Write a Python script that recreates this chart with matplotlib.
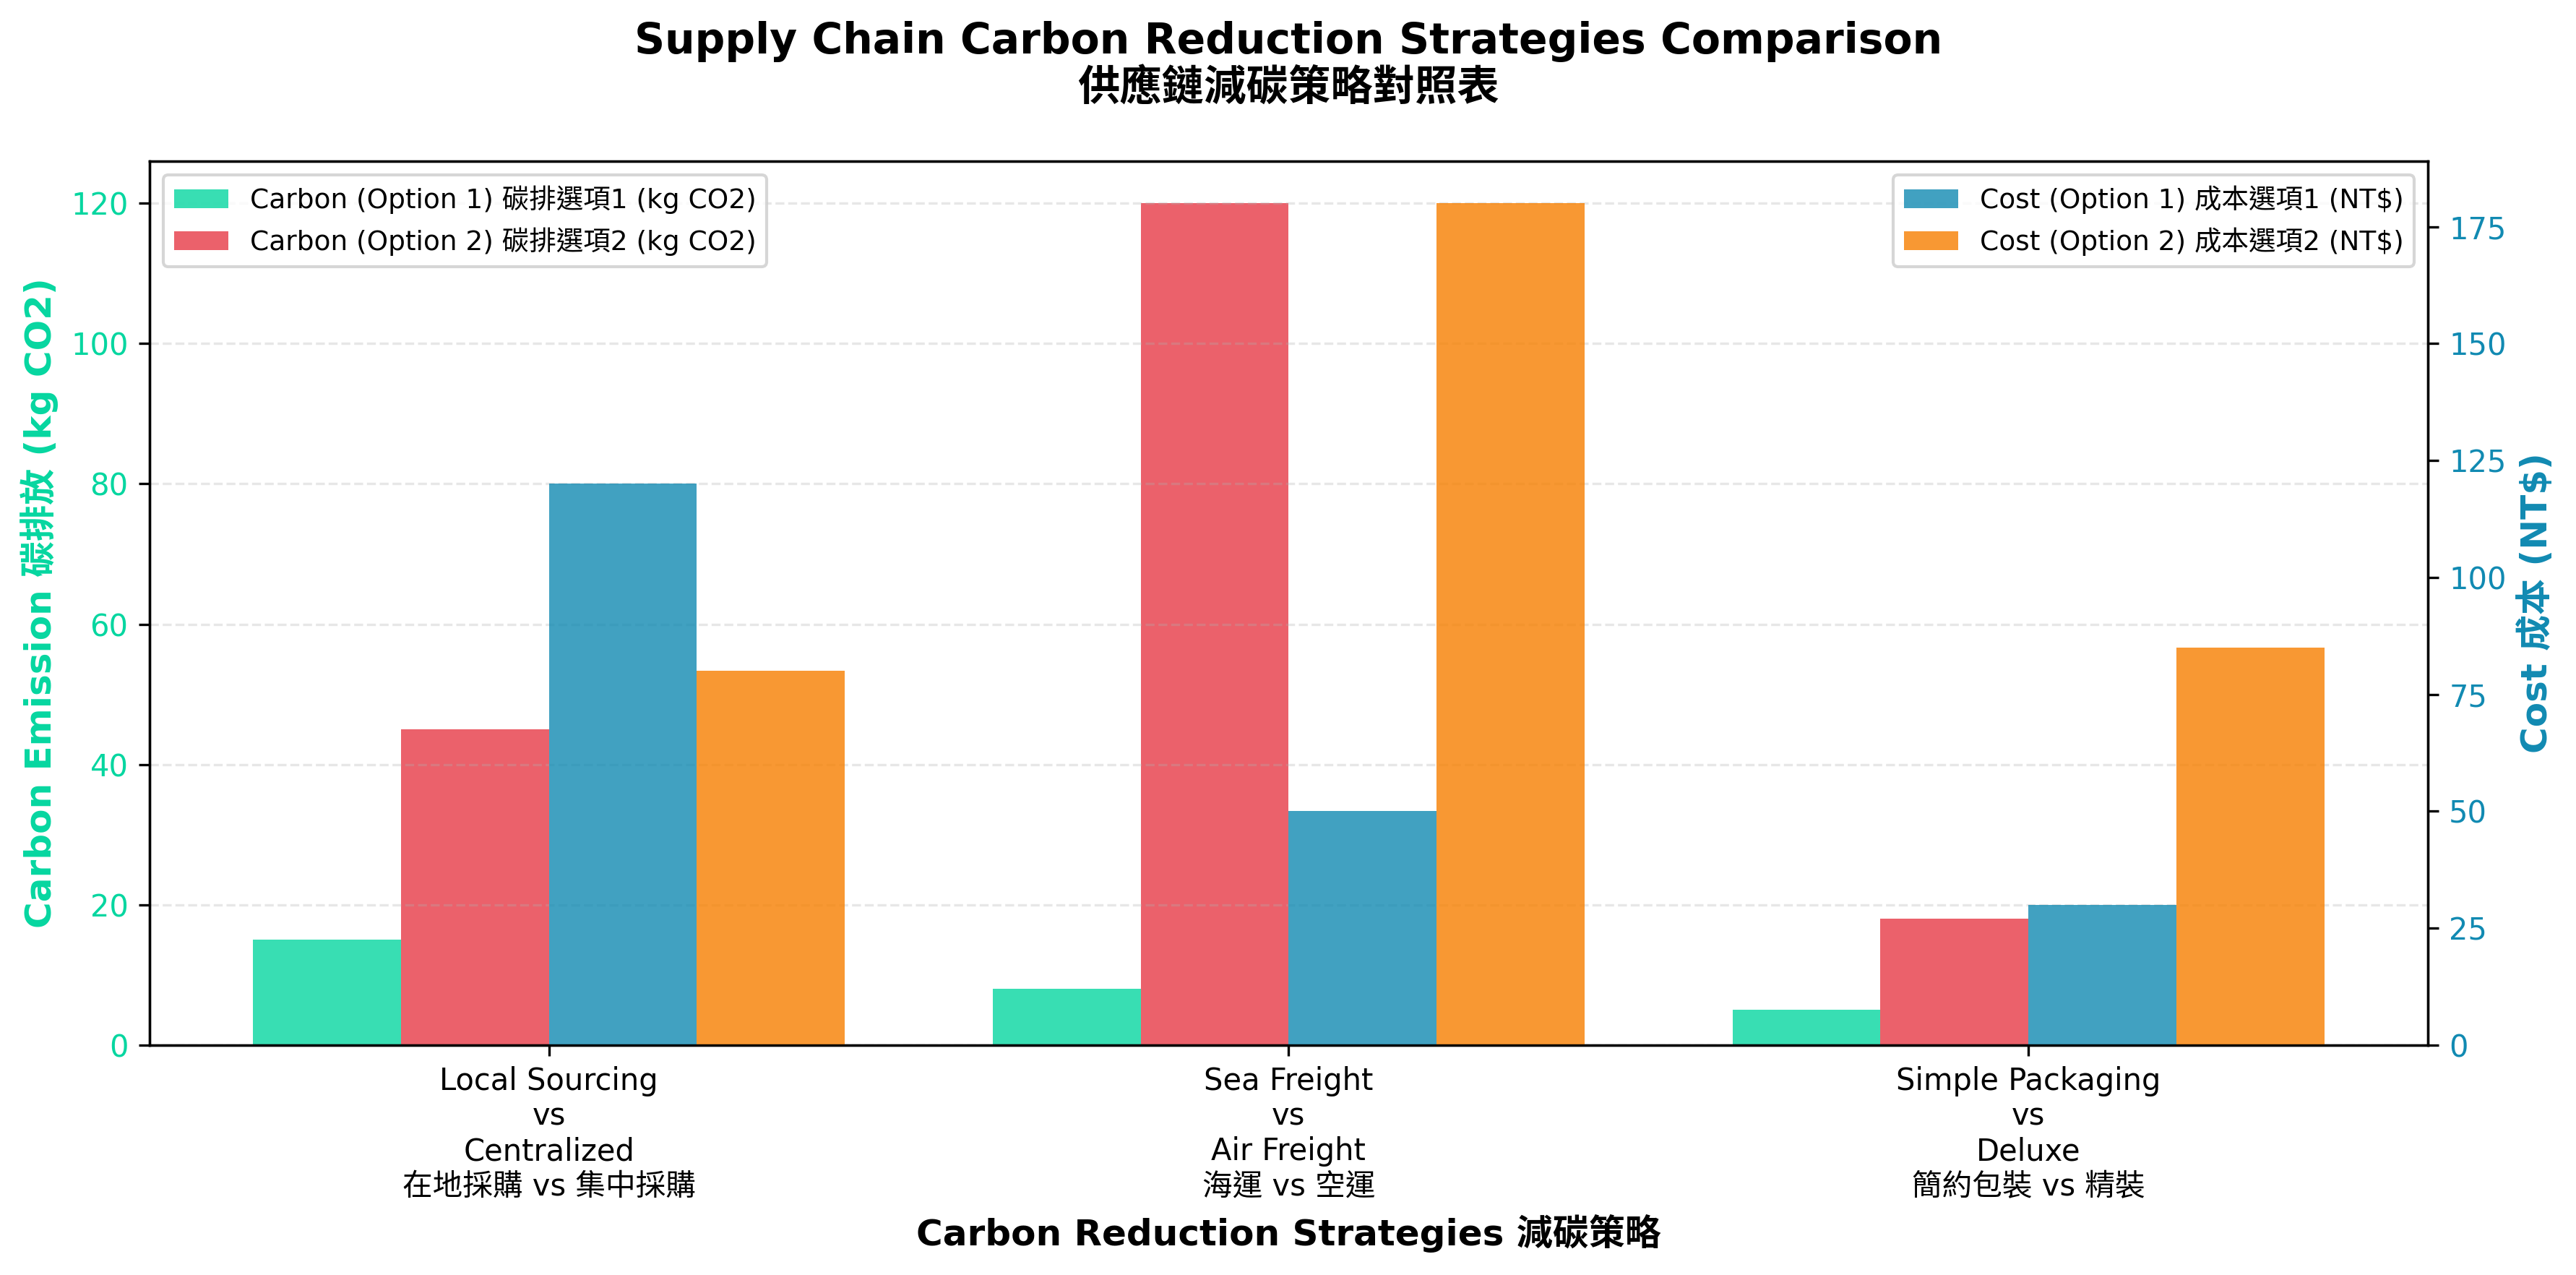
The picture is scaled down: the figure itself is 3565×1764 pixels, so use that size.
import numpy as np
import matplotlib.pyplot as plt

plt.rcParams['font.family'] = ['DejaVu Sans', 'Noto Sans CJK TC']

# Strategy comparisons
strategies = [
    'Local Sourcing\nvs\nCentralized\n在地採購 vs 集中採購',
    'Sea Freight\nvs\nAir Freight\n海運 vs 空運',
    'Simple Packaging\nvs\nDeluxe\n簡約包裝 vs 精裝',
]
carbon_opt1 = [15, 8, 5]      # kg CO2
carbon_opt2 = [45, 120, 18]   # kg CO2
cost_opt1 = [120, 50, 30]     # NT$
cost_opt2 = [80, 180, 85]     # NT$

carbon_color = '#06D6A0'
cost_color = '#118AB2'

x = np.arange(len(strategies))
width = 0.2

fig = plt.figure(figsize=(3565 / 300, 1764 / 300), dpi=300)
ax1 = fig.add_axes([0.058, 0.1803, 0.8845, 0.6933])
ax2 = ax1.twinx()

# Carbon bars on the left axis
b1 = ax1.bar(x - 1.5 * width, carbon_opt1, width, color='#06D6A0', alpha=0.8,
             label='Carbon (Option 1) 碳排選項1 (kg CO2)')
b2 = ax1.bar(x - 0.5 * width, carbon_opt2, width, color='#E63946', alpha=0.8,
             label='Carbon (Option 2) 碳排選項2 (kg CO2)')

# Cost bars on the right axis
b3 = ax2.bar(x + 0.5 * width, cost_opt1, width, color='#118AB2', alpha=0.8,
             label='Cost (Option 1) 成本選項1 (NT$)')
b4 = ax2.bar(x + 1.5 * width, cost_opt2, width, color='#F77F00', alpha=0.8,
             label='Cost (Option 2) 成本選項2 (NT$)')

ax1.set_xticks(x)
ax1.set_xticklabels(strategies, fontsize=10)
ax1.set_xlabel('Carbon Reduction Strategies 減碳策略', fontsize=12, fontweight='bold')
ax1.set_ylabel('Carbon Emission 碳排放 (kg CO2)', fontsize=12, fontweight='bold', color=carbon_color)
ax2.set_ylabel('Cost 成本 (NT$)', fontsize=12, fontweight='bold', color=cost_color)
ax1.tick_params(axis='y', labelcolor=carbon_color, labelsize=10)
ax2.tick_params(axis='y', labelcolor=cost_color, labelsize=10)

ax1.grid(axis='y', linestyle='--', alpha=0.3)

ax1.legend(loc='upper left', fontsize=9)
ax2.legend(loc='upper right', fontsize=9)

ax1.set_title('Supply Chain Carbon Reduction Strategies Comparison\n供應鏈減碳策略對照表',
              fontsize=14, fontweight='bold', pad=20)

fig.savefig('out.png', dpi=300)
